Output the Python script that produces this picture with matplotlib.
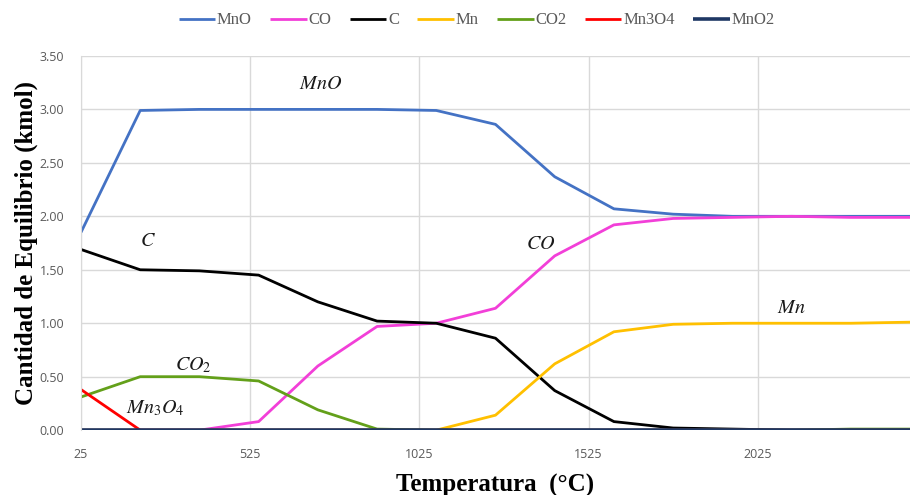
import matplotlib
matplotlib.use("Agg")
import matplotlib.pyplot as plt

temps = [25, 200, 375, 550, 725, 900, 1075, 1250, 1425, 1600, 1775, 1950, 2125, 2300, 2475]
MnO   = [1.85, 2.99, 3.00, 3.00, 3.00, 3.00, 2.99, 2.86, 2.37, 2.07, 2.02, 2.00, 2.00, 2.00, 2.00]
CO    = [0.00, 0.00, 0.00, 0.08, 0.60, 0.97, 1.00, 1.14, 1.63, 1.92, 1.98, 1.99, 2.00, 1.99, 1.99]
C     = [1.69, 1.50, 1.49, 1.45, 1.20, 1.02, 1.00, 0.86, 0.37, 0.08, 0.02, 0.01, 0.00, 0.00, 0.00]
Mn    = [0.00, 0.00, 0.00, 0.00, 0.00, 0.00, 0.00, 0.14, 0.62, 0.92, 0.99, 1.00, 1.00, 1.00, 1.01]
CO2   = [0.31, 0.50, 0.50, 0.46, 0.19, 0.01, 0.00, 0.00, 0.00, 0.00, 0.00, 0.00, 0.00, 0.01, 0.01]
Mn3O4 = [0.38, 0.00, 0.00, 0.00, 0.00, 0.00, 0.00, 0.00, 0.00, 0.00, 0.00, 0.00, 0.00, 0.00, 0.00]
MnO2  = [0.00] * 15

series_names = ["MnO", "CO", "C", "Mn", "CO2", "Mn3O4", "MnO2"]
series_vals = [MnO, CO, C, Mn, CO2, Mn3O4, MnO2]
colors = ["#4472C4", "#F23FD8", "#000000", "#FFC000", "#63A01A", "#FF0000", "#1F3864"]
widths = [2.0, 2.0, 2.0, 2.0, 2.0, 2.0, 2.6]

xticks = [25, 525, 1025, 1525, 2025]
yticks = [0, 0.5, 1.0, 1.5, 2.0, 2.5, 3.0, 3.5]

plt.rcParams['mathtext.fontset'] = 'stix'

fig = plt.figure(figsize=(9.1, 4.95), dpi=100)
ax = fig.add_axes([0.089, 0.131, 0.911, 0.756])

for name, vals, col, w in zip(series_names, series_vals, colors, widths):
    ax.plot(temps, vals, color=col, lw=w, label=name, solid_capstyle='butt')

ax.set_xlim(25, 2475)
ax.set_ylim(0, 3.5)
ax.set_xticks(xticks)
ax.set_xticklabels([str(t) for t in xticks])
ax.set_yticks(yticks)
ax.set_yticklabels([f"{v:.2f}" for v in yticks])
ax.grid(True, color="#D9D9D9", lw=1.0)
ax.set_axisbelow(True)
for s in ["top", "right", "bottom"]:
    ax.spines[s].set_visible(False)
ax.spines["left"].set_color("#D9D9D9")
ax.tick_params(axis='both', length=0, labelsize=9, labelcolor="#595959")
ax.tick_params(axis='x', pad=13)
ax.tick_params(axis='y', pad=12)
for lbl in ax.get_xticklabels() + ax.get_yticklabels():
    lbl.set_fontfamily("Open Sans")

ax.set_xlabel("Temperatura  (°C)", fontfamily="Liberation Serif", fontweight="bold",
              fontsize=18, labelpad=9)
ax.set_ylabel("Cantidad de Equilibrio (kmol)", fontfamily="Liberation Serif",
              fontweight="bold", fontsize=18, labelpad=1)

leg = ax.legend(loc="center", bbox_to_anchor=(0.477, 1.095), ncol=7, frameon=False,
                prop={"family": "Liberation Serif", "size": 12}, handlelength=2.2,
                handletextpad=0.1, columnspacing=1.1, borderaxespad=0)
for t in leg.get_texts():
    t.set_color("#595959")

ann = [("$MnO$", 732, 3.24), ("$C$", 223, 1.77), ("$CO$", 1383, 1.75),
       ("$Mn$", 2123, 1.15), ("$CO_2$", 356, 0.61), ("$Mn_3O_4$", 244, 0.21)]
for txt, x, y in ann:
    ax.text(x, y, txt, fontsize=14.5, ha="center", va="center", color="#1a1a1a")

fig.savefig("out.png", dpi=100)
